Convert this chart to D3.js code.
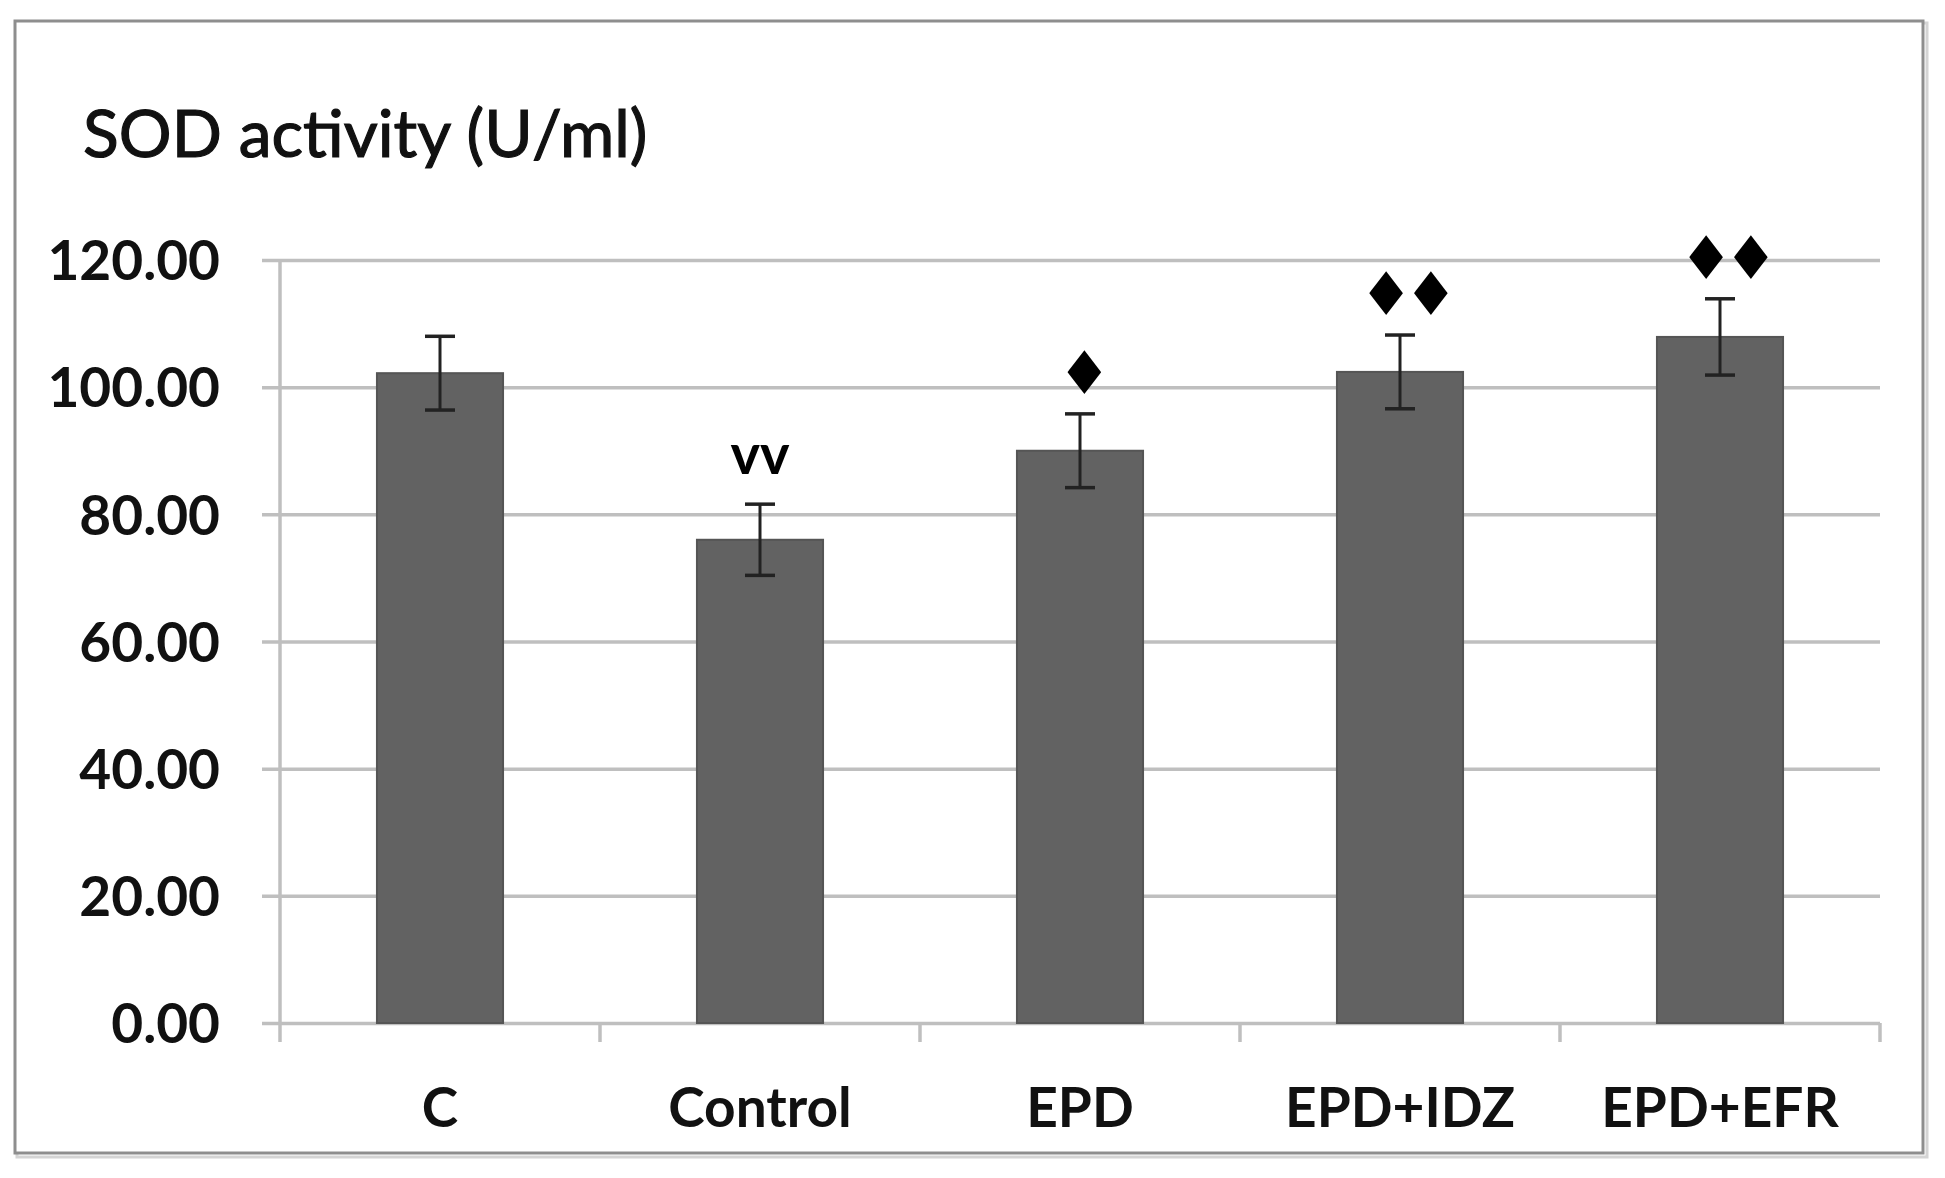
<!DOCTYPE html>
<html>
<head>
<meta charset="utf-8">
<script src="https://d3js.org/d3.v7.min.js"></script>
<style>
  body { margin: 0; background: #fff; }
  svg { display: block; }
</style>
</head>
<body>
<svg class="graph" width="1945" height="1178"></svg>
<script>
// data
var groups = ["C", "Control", "EPD", "EPD+IDZ", "EPD+EFR"];
var means = [102.2, 76.0, 90.0, 102.4, 107.9];
var sds = [5.8, 5.6, 5.8, 5.8, 6.0];
var marks = ["", "vv", "\u2666", "\u2666\u2666", "\u2666\u2666"];
var yTicks = [0, 20, 40, 60, 80, 100, 120];

var data = groups.map(function(g, i) {
  return {key: g, value: means[i], sd: sds[i], mark: marks[i]};
});

var svg = d3.select('svg.graph'),
  margin = {top: 260, right: 65, bottom: 155, left: 280},
  width = +svg.attr("width") - margin.left - margin.right,
  height = +svg.attr("height") - margin.top - margin.bottom;

// outer frame with a faint shadow
svg.append("rect")
  .attr("x", 17).attr("y", 23).attr("width", 1910).attr("height", 1134)
  .attr("fill", "none").attr("stroke", "#d4d4d4").attr("stroke-width", 3);
svg.append("rect")
  .attr("x", 15).attr("y", 21).attr("width", 1908).attr("height", 1132)
  .attr("fill", "#fff").attr("stroke", "#8e8e8e").attr("stroke-width", 3);

svg.append("text")
  .attr("x", 83).attr("y", 157)
  .style("font-family", "Lato, 'Open Sans', sans-serif")
  .style("font-size", "66px")
  .style("fill", "#111")
  .style("stroke", "#111").style("stroke-width", "1.2px")
  .text("SOD activity (U/ml)");

var g = svg.append("g").attr("transform", "translate(" + margin.left + "," + margin.top + ")");

var x = d3.scaleBand()
  .domain(groups)
  .range([0, width])
  .paddingInner(0);

var y = d3.scaleLinear()
  .domain([0, 120])
  .range([height, 0]);

// gridlines + y labels
var yAxis = g.append("g")
  .attr("class", "axis y")
  .call(d3.axisLeft(y).tickValues(yTicks).tickFormat(d3.format(".2f")).tickSize(-width).tickPadding(60));
yAxis.select(".domain").remove();
yAxis.selectAll(".tick line")
  .attr("x1", -18)
  .attr("stroke", "#bfbfbf").attr("stroke-width", 3.5);
yAxis.selectAll(".tick text")
  .style("font-family", "Lato, 'Open Sans', sans-serif")
  .style("font-weight", "bold")
  .style("font-size", "55px")
  .style("fill", "#111")
  .attr("dy", "0.36em");

// y axis line
g.append("line")
  .attr("x1", 0).attr("x2", 0)
  .attr("y1", y(120)).attr("y2", height + 19)
  .attr("stroke", "#bfbfbf").attr("stroke-width", 3.5);

// category ticks between groups
var bounds = groups.map(function(d) { return x(d) + x.bandwidth(); });
g.append("g").selectAll("line")
  .data(bounds)
  .enter().append("line")
    .attr("x1", function(d) { return d; }).attr("x2", function(d) { return d; })
    .attr("y1", height).attr("y2", height + 19)
    .attr("stroke", "#bfbfbf").attr("stroke-width", 3.5);

// category labels
g.append("g").selectAll("text")
  .data(groups)
  .enter().append("text")
    .attr("x", function(d) { return x(d) + x.bandwidth() / 2; })
    .attr("y", height + 104)
    .attr("text-anchor", "middle")
    .style("font-family", "Lato, 'Open Sans', sans-serif")
    .style("font-weight", "bold")
    .style("font-size", "55px")
    .style("fill", "#111")
    .text(function(d) { return d; });

var bw = x.bandwidth() * 0.394;

g.append("g").selectAll("rect")
  .data(data)
  .enter().append("rect")
    .attr("x", function(d) { return x(d.key) + (x.bandwidth() - bw) / 2; })
    .attr("y", function(d) { return y(d.value); })
    .attr("width", bw)
    .attr("height", function(d) { return height - y(d.value); })
    .attr("fill", "#626262")
    .attr("stroke", "#555").attr("stroke-width", 2);

// error bars
var eb = g.append("g").selectAll("g")
  .data(data)
  .enter().append("g")
    .attr("transform", function(d) { return "translate(" + (x(d.key) + x.bandwidth() / 2) + ",0)"; });
eb.append("line")
  .attr("y1", function(d) { return y(d.value + d.sd); })
  .attr("y2", function(d) { return y(d.value - d.sd); })
  .attr("stroke", "#222").attr("stroke-width", 3);
eb.append("line")
  .attr("x1", -15).attr("x2", 15)
  .attr("y1", function(d) { return y(d.value + d.sd); })
  .attr("y2", function(d) { return y(d.value + d.sd); })
  .attr("stroke", "#222").attr("stroke-width", 3.5);
eb.append("line")
  .attr("x1", -15).attr("x2", 15)
  .attr("y1", function(d) { return y(d.value - d.sd); })
  .attr("y2", function(d) { return y(d.value - d.sd); })
  .attr("stroke", "#222").attr("stroke-width", 3.5);

// significance marks
eb.append("text")
  .attr("x", function(d) { return d.mark.length === 2 && d.mark !== "vv" ? 4 : 0; })
  .attr("y", function(d) { return y(d.value + d.sd) - (d.mark === "vv" ? 30 : 20); })
  .attr("text-anchor", "middle")
  .style("font-family", function(d) { return d.mark === "vv" ? "Lato, sans-serif" : "'DejaVu Sans', sans-serif"; })
  .style("font-weight", function(d) { return d.mark === "vv" ? "bold" : "normal"; })
  .style("font-size", function(d) { return d.mark === "vv" ? "56px" : "60px"; })
  .style("letter-spacing", function(d) { return d.mark === "vv" ? "0px" : "-9px"; })
  .style("fill", "#000")
  .text(function(d) { return d.mark; });
</script>
</body>
</html>
